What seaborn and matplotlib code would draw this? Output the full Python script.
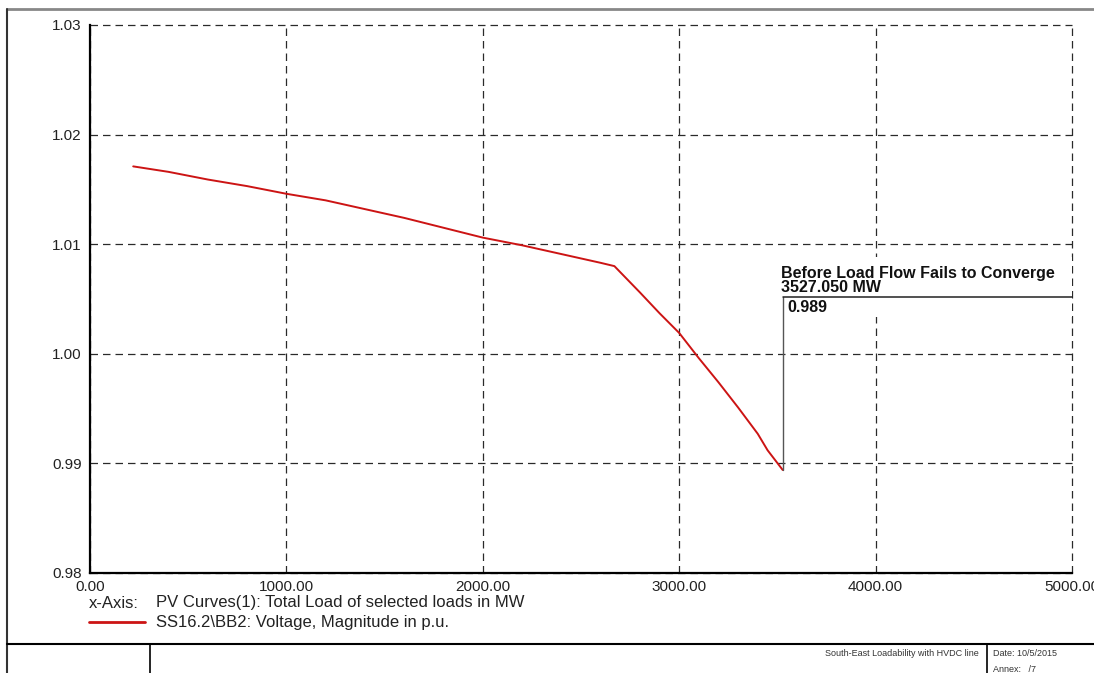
import matplotlib
matplotlib.use("Agg")
import matplotlib.pyplot as plt
import seaborn as sns
import pandas as pd
from matplotlib.lines import Line2D
from matplotlib.patches import Rectangle
from matplotlib.ticker import MultipleLocator, FormatStrFormatter

# PV curve: bus voltage versus total system load
load_mw = [220, 400, 600, 800, 1000, 1200, 1400, 1600, 1800, 2000, 2200,
           2400, 2600, 2670, 2800, 2900, 3000, 3100, 3200, 3300, 3400,
           3450, 3527.05]
voltage_pu = [1.0171, 1.0166, 1.0159, 1.0153, 1.0146, 1.0140, 1.0132,
              1.0124, 1.0115, 1.0106, 1.0099, 1.0091, 1.0083, 1.0080,
              1.0056, 1.0037, 1.0019, 0.9996, 0.9974, 0.9951, 0.9927,
              0.9912, 0.9894]

x_axis_label = "PV Curves(1): Total Load of selected loads in MW"
series_label = "SS16.2\\BB2: Voltage, Magnitude in p.u."
annot_title = "Before Load Flow Fails to Converge"
footer_title = "South-East Loadability with HVDC line"
footer_date = "Date: 10/5/2015"
footer_annex = "Annex:   /7"

sns.set_theme(style="white")
plt.rcParams['font.family'] = ['Liberation Sans', 'DejaVu Sans']

W, H = 1094, 673
fig = plt.figure(figsize=(W / 100, H / 100), dpi=100)


def fx(px):
    return px / W


def fy(py):
    return 1 - py / H


ax = fig.add_axes([fx(90), fy(573), fx(1072) - fx(90), fy(25) - fy(573)])

red = '#cc1414'
df = pd.DataFrame({"load": load_mw, "voltage": voltage_pu})
sns.lineplot(data=df, x="load", y="voltage", ax=ax, color=red, lw=1.4,
             sort=False, estimator=None, legend=False)

ax.set_xlim(0, 5000)
ax.set_ylim(0.98, 1.03)
ax.set_xlabel("")
ax.set_ylabel("")
ax.xaxis.set_major_locator(MultipleLocator(1000))
ax.xaxis.set_minor_locator(MultipleLocator(500))
ax.yaxis.set_major_locator(MultipleLocator(0.01))
ax.yaxis.set_minor_locator(MultipleLocator(0.005))
ax.xaxis.set_major_formatter(FormatStrFormatter('%.2f'))
ax.yaxis.set_major_formatter(FormatStrFormatter('%.2f'))

ax.set_axisbelow(True)
ax.grid(True, which='major', ls=(0, (6, 4)), color='#2a2a2a', lw=0.9)
for gl in ax.get_xgridlines() + ax.get_ygridlines():
    gl.set_clip_on(False)

ax.tick_params(axis='both', which='major', labelsize=11, labelcolor='#222222')
ax.tick_params(axis='x', which='major', length=0, pad=5)
ax.tick_params(axis='y', which='major', length=3, width=1, direction='out',
               color='black', pad=3)
ax.tick_params(axis='both', which='minor', length=4, width=1,
               direction='in', color='black')

for side in ('top', 'right'):
    ax.spines[side].set_visible(False)
for side in ('left', 'bottom'):
    ax.spines[side].set_color('black')
    ax.spines[side].set_linewidth(1.6)

# Annotation of the last converged point
x_end, v_end = load_mw[-1], voltage_pu[-1]
annot_level = 1.0052
ax.add_patch(Rectangle((x_end - 30, 1.0034), 5000 - x_end + 30, 0.0054,
                       facecolor='white', edgecolor='none', zorder=1.5,
                       clip_on=False))
ax.plot([x_end, x_end], [v_end, annot_level], color='#555555', lw=1.0,
        zorder=3)
ax.plot([x_end, 5000], [annot_level, annot_level], color='#222222', lw=1.1,
        zorder=3, clip_on=False)
ax.annotate(f"{annot_title}\n{x_end:.3f} MW", xy=(x_end, annot_level),
            xytext=(-1, 1), textcoords='offset points', ha='left',
            va='bottom', fontsize=11.5, fontweight='bold', color='#111111',
            linespacing=0.95, zorder=4)
ax.annotate(f"{v_end:.3f}", xy=(x_end, annot_level), xytext=(3, -2),
            textcoords='offset points', ha='left', va='top', fontsize=11.5,
            fontweight='bold', color='#111111', zorder=4)

# Legend block under the axes
fig.text(fx(89), fy(603), "x-Axis:", va='center', ha='left', fontsize=12,
         color='#222222')
fig.text(fx(156), fy(603), x_axis_label, va='center', ha='left',
         fontsize=12, color='#222222')
fig.add_artist(Line2D([fx(89), fx(145)], [fy(622), fy(622)], color=red,
                      lw=2))
fig.text(fx(156), fy(622), series_label, va='center', ha='left',
         fontsize=12, color='#222222')

# Page frame and title block
fig.add_artist(Line2D([fx(7), 1], [fy(9), fy(9)], color='#888888', lw=2))
fig.add_artist(Line2D([fx(7), fx(7)], [fy(9), 0], color='#333333', lw=1.5))
fig.add_artist(Line2D([fx(7), 1], [fy(644), fy(644)], color='black', lw=1.5))
fig.add_artist(Line2D([fx(150), fx(150)], [fy(644), 0], color='black',
                      lw=1.2))
fig.add_artist(Line2D([fx(987), fx(987)], [fy(644), 0], color='black',
                      lw=1.2))
fig.text(fx(979), fy(653), footer_title, ha='right', va='center',
         fontsize=6.5, color='#333333')
fig.text(fx(993), fy(653), footer_date, ha='left', va='center',
         fontsize=6.5, color='#333333')
fig.text(fx(993), fy(669), footer_annex, ha='left', va='center',
         fontsize=6.5, color='#333333')

fig.savefig("out.png", dpi=100)
